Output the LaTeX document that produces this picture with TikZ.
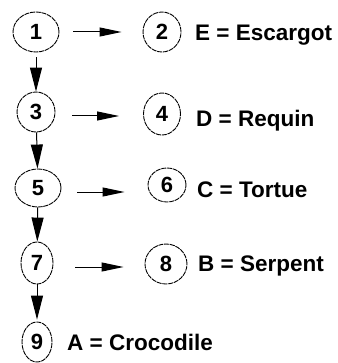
\documentclass[tikz,border=0pt]{standalone}
\usepackage{fontspec}
\setmainfont{Liberation Sans}
\usetikzlibrary{arrows.meta,shapes.geometric}
\begin{document}
\begin{tikzpicture}[x=1pt,y=-1pt,font=\bfseries\fontsize{22}{24}\selectfont,
	varrow/.style={-{Triangle[length=24pt,width=12pt]}},
	harrow/.style={-{Triangle[length=22pt,width=9pt]}}]
	\path[use as bounding box] (0,0) rectangle (337,363);
	\begin{scope}[every node/.style={ellipse,draw,inner sep=0pt,line width=0.9pt,dash pattern=on 5pt off 0.8pt}]
		\node[minimum width=46pt,minimum height=40pt] (N1) at (36,32) {1};
		\node[minimum width=38pt,minimum height=40pt] (N2) at (162,32) {2};
		\node[minimum width=38pt,minimum height=40pt] (N3) at (36,112) {3};
		\node[minimum width=37pt,minimum height=42pt] (N4) at (162,114) {4};
		\node[minimum width=46pt,minimum height=38pt] (N5) at (38,188) {5};
		\node[minimum width=38pt,minimum height=34pt] (N6) at (167,185) {6};
		\node[minimum width=32pt,minimum height=42pt] (N7) at (37,263) {7};
		\node[minimum width=42pt,minimum height=40pt] (N8) at (166,264) {8};
		\node[minimum width=30pt,minimum height=40pt] (N9) at (37,342) {9};
	\end{scope}
	
	\begin{scope}[every node/.style={anchor=base west,inner sep=0pt,font=\bfseries\fontsize{22.5}{24}\selectfont}]
		\node (E) at (195,41) {E = Escargot};
		\node (D) at (196,127) {D = Requin};
		\node (C) at (197,197) {C = Tortue};
		\node (B) at (198,271) {B = Serpent};
		\node (A) at (67,350) {A = Crocodile};
	\end{scope}
	
	\begin{scope}[every edge/.style={draw=black,line width=1pt}]
		\path (N1) edge[varrow,shorten <=5pt] (N3);
		\path (N3) edge[varrow] (N5);
		\path (N5) edge[varrow] (N7);
		\path (N7) edge[varrow,shorten >=2pt] (N9);
		\path (N1.east) edge[harrow,shorten <=14pt,shorten >=21pt] (N2.west);
		\path ([yshift=-4pt]N3.east) edge[harrow,shorten <=17pt,shorten >=24pt] ([yshift=-4pt]N3.east -| N4.west);
		\path ([yshift=-4pt]N5.east) edge[harrow,shorten <=16pt,shorten >=23pt] ([yshift=-4pt]N5.east -| N6.west);
		\path ([yshift=-4pt]N7.east) edge[harrow,shorten <=22pt,shorten >=21pt] ([yshift=-4pt]N7.east -| N8.west);
	\end{scope}
\end{tikzpicture}
\end{document}
